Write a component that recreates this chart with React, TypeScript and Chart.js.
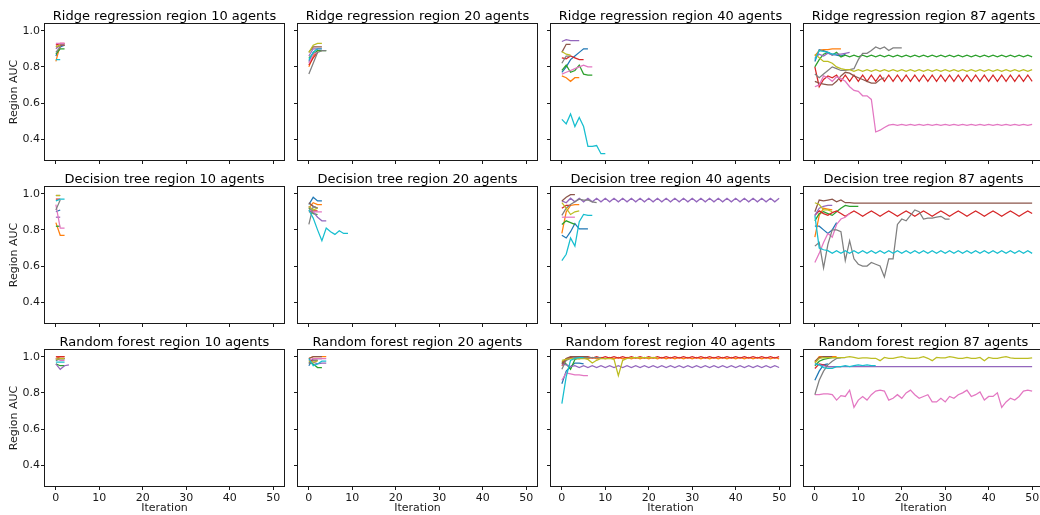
import React, { useEffect, useRef } from "react";
import { Chart, registerables } from "chart.js";

Chart.register(...registerables);

const modelNames = ["Ridge regression", "Decision tree", "Random forest"];
const agentCounts = [10, 20, 40, 87];
const xTickValues = [0, 10, 20, 30, 40, 50];
const yTickValues = [0.4, 0.6, 0.8, 1.0];
const xLimits = [-2.5, 52.5];
const yLimits = [0.285, 1.037];
const seriesColors = ["#1f77b4", "#ff7f0e", "#2ca02c", "#d62728", "#9467bd", "#8c564b", "#e377c2", "#7f7f7f", "#bcbd22", "#17becf"];

// ---- Ridge regression ----
const ridge10 = [
  [0.86, 0.91, 0.92],
  [0.83, 0.92, 0.92],
  [0.87, 0.90, 0.90],
  [0.92, 0.93, 0.93],
  [0.90, 0.92, 0.92],
  [0.91, 0.92, 0.92],
  [0.93, 0.93, 0.93],
  [0.88, 0.91],
  [0.91, 0.92],
  [0.84, 0.84],
];
const ridge20 = [
  [0.83, 0.88, 0.90, 0.90],
  [0.80, 0.86, 0.89, 0.89],
  [0.85, 0.87, 0.89, 0.89, 0.89],
  [0.81, 0.85, 0.88],
  [0.86, 0.90, 0.90],
  [0.88, 0.91, 0.91, 0.91],
  [0.82, 0.87, 0.88],
  [0.76, 0.82, 0.88, 0.89, 0.89],
  [0.88, 0.92, 0.93, 0.93],
  [0.84, 0.88, 0.90],
];
const ridge40 = [
  [0.77, 0.80, 0.84, 0.86, 0.88, 0.90, 0.90],
  [0.75, 0.74, 0.72, 0.74, 0.74],
  [0.78, 0.81, 0.77, 0.78, 0.81, 0.76, 0.755, 0.755],
  [0.85, 0.845, 0.86, 0.85, 0.84, 0.84],
  [0.94, 0.95, 0.945, 0.945, 0.945],
  [0.88, 0.925, 0.925],
  [0.76, 0.77, 0.78, 0.79, 0.80, 0.81, 0.80, 0.80],
  [0.82, 0.86, 0.86],
  [0.885, 0.87, 0.865],
  [0.51, 0.485, 0.54, 0.47, 0.52, 0.47, 0.36, 0.36, 0.365, 0.32, 0.32],
];
const ridge87 = [
  [0.83, 0.895, 0.89, 0.88, 0.87, 0.865, 0.86, 0.87],
  [0.86, 0.89, 0.895, 0.895, 0.90, 0.90, 0.90],
  [0.80, 0.84, 0.87, 0.88, 0.865, 0.88,
    0.855, 0.865, 0.855, 0.865, 0.855, 0.865, 0.855, 0.865, 0.855, 0.865,
    0.855, 0.865, 0.855, 0.865, 0.855, 0.865, 0.855, 0.865, 0.855, 0.865,
    0.855, 0.865, 0.855, 0.865, 0.855, 0.865, 0.855, 0.865, 0.855, 0.865,
    0.855, 0.865, 0.855, 0.865, 0.855, 0.865, 0.855, 0.865, 0.855, 0.865,
    0.855, 0.865, 0.855, 0.865, 0.855],
  [0.80, 0.69, 0.73, 0.75, 0.74,
    0.755, 0.72, 0.755, 0.72, 0.755, 0.72, 0.755, 0.72, 0.755, 0.72,
    0.755, 0.72, 0.755, 0.72, 0.755, 0.72, 0.755, 0.72, 0.755, 0.72,
    0.755, 0.72, 0.755, 0.72, 0.755, 0.72, 0.755, 0.72, 0.755, 0.72,
    0.755, 0.72, 0.755, 0.72, 0.755, 0.72, 0.755, 0.72, 0.755, 0.72,
    0.755, 0.72, 0.755, 0.72, 0.755, 0.72],
  [0.85, 0.87, 0.86, 0.875, 0.865, 0.87, 0.87, 0.875, 0.88],
  [0.72, 0.71, 0.705, 0.70, 0.70, 0.72, 0.75, 0.77, 0.765, 0.75, 0.74, 0.73, 0.72, 0.71, 0.71, 0.73, 0.74],
  [0.69, 0.70, 0.75, 0.74, 0.72, 0.745, 0.735, 0.72, 0.69, 0.67,
    0.665, 0.64, 0.64, 0.62, 0.44, 0.45, 0.465, 0.478,
    0.482, 0.476, 0.482, 0.476, 0.482, 0.476, 0.482, 0.476, 0.482, 0.476,
    0.482, 0.476, 0.482, 0.476, 0.482, 0.476, 0.482, 0.476, 0.482, 0.476,
    0.482, 0.476, 0.482, 0.476, 0.482, 0.476, 0.482, 0.476, 0.482, 0.476,
    0.482, 0.476, 0.482],
  [0.76, 0.74, 0.76, 0.78, 0.80, 0.79, 0.78, 0.78, 0.785, 0.79, 0.84, 0.875, 0.875, 0.89, 0.91, 0.90, 0.91, 0.89, 0.905, 0.905, 0.905],
  [0.87, 0.85, 0.83, 0.83, 0.82, 0.80, 0.79, 0.785,
    0.785, 0.775, 0.785, 0.775, 0.785, 0.775, 0.785, 0.775, 0.785, 0.775,
    0.785, 0.775, 0.785, 0.775, 0.785, 0.775, 0.785, 0.775, 0.785, 0.775,
    0.785, 0.775, 0.785, 0.775, 0.785, 0.775, 0.785, 0.775, 0.785, 0.775,
    0.785, 0.775, 0.785, 0.775, 0.785, 0.775, 0.785, 0.775, 0.785, 0.775,
    0.785, 0.775, 0.785],
  [0.84, 0.89, 0.885, 0.88, 0.87, 0.87],
];

// ---- Decision tree ----
const tree10 = [
  [0.90, 0.91],
  [0.84, 0.77, 0.77],
  [0.82, 0.82],
  [0.97, 0.97],
  [0.87, 0.87],
  [0.99, 0.99],
  [0.94, 0.81, 0.81],
  [0.91, 0.965],
  [0.99, 0.99],
  [0.96, 0.97, 0.97],
];
const tree20 = [
  [0.94, 0.98, 0.96, 0.96],
  [0.92, 0.95, 0.94, 0.94],
  [0.92, 0.89, 0.885],
  [0.90, 0.905, 0.905],
  [0.93, 0.90, 0.87, 0.85, 0.85],
  [0.95, 0.93, 0.92],
  [0.91, 0.90, 0.90, 0.90],
  [0.83, 0.93, 0.92],
  [0.93, 0.91, 0.92],
  [0.91, 0.865, 0.80, 0.74, 0.81, 0.79, 0.775, 0.795, 0.78, 0.78],
];
const tree40 = [
  [0.77, 0.755, 0.79, 0.835, 0.805, 0.805, 0.805],
  [0.78, 0.90, 0.935, 0.94, 0.94],
  [0.83, 0.85, 0.84, 0.83],
  [0.92, 0.935, 0.935],
  [0.96, 0.95,
    0.975, 0.955, 0.975, 0.955, 0.975, 0.955, 0.975, 0.955, 0.975, 0.955,
    0.975, 0.955, 0.975, 0.955, 0.975, 0.955, 0.975, 0.955, 0.975, 0.955,
    0.975, 0.955, 0.975, 0.955, 0.975, 0.955, 0.975, 0.955, 0.975, 0.955,
    0.975, 0.955, 0.975, 0.955, 0.975, 0.955, 0.975, 0.955, 0.975, 0.955,
    0.975, 0.955, 0.975, 0.955, 0.975, 0.955, 0.975, 0.955,
    0.975],
  [0.96, 0.98, 0.995, 0.995],
  [0.87, 0.87, 0.87, 0.87],
  [0.88, 0.92, 0.94, 0.955, 0.97, 0.965, 0.965, 0.955, 0.95],
  [0.95, 0.92, 0.885, 0.90, 0.905],
  [0.63, 0.665, 0.755, 0.71, 0.845, 0.885, 0.88, 0.88],
];
const tree87 = [
  [0.82, 0.82, 0.80, 0.78, 0.80, 0.84],
  [0.76, 0.88, 0.92, 0.915, 0.91],
  [0.85, 0.89, 0.90, 0.89, 0.88, 0.90, 0.92, 0.935, 0.93, 0.93, 0.93],
  [0.88, 0.905, 0.89, 0.88, 0.895,
    0.905, 0.89, 0.875, 0.89, 0.905, 0.89, 0.875, 0.89, 0.905, 0.89, 0.875, 0.89,
    0.905, 0.89, 0.875, 0.89, 0.905, 0.89, 0.875, 0.89, 0.905, 0.89, 0.875, 0.89,
    0.905, 0.89, 0.875, 0.89, 0.905, 0.89, 0.875, 0.89, 0.905, 0.89, 0.875, 0.89,
    0.905, 0.89, 0.875, 0.89, 0.905, 0.89, 0.875, 0.89,
    0.905, 0.89],
  [0.88, 0.92, 0.93, 0.935, 0.935],
  [0.90, 0.965, 0.96, 0.965, 0.97, 0.955, 0.965, 0.95, 0.95,
    0.948, 0.948, 0.948, 0.948, 0.948, 0.948, 0.948, 0.948, 0.948, 0.948,
    0.948, 0.948, 0.948, 0.948, 0.948, 0.948, 0.948, 0.948, 0.948, 0.948,
    0.948, 0.948, 0.948, 0.948, 0.948, 0.948, 0.948, 0.948, 0.948, 0.948,
    0.948, 0.948, 0.948, 0.948, 0.948, 0.948, 0.948, 0.948, 0.948, 0.948,
    0.948, 0.948],
  [0.62, 0.67, 0.73, 0.78, 0.76, 0.83, 0.86, 0.87, 0.89],
  [0.71, 0.73, 0.59, 0.72, 0.80, 0.80, 0.79, 0.63, 0.74, 0.64,
    0.61, 0.60, 0.60, 0.62, 0.61, 0.60, 0.54, 0.64, 0.64, 0.83,
    0.86, 0.85, 0.88, 0.91, 0.90, 0.86, 0.865, 0.865, 0.87, 0.875,
    0.86, 0.86],
  [0.95, 0.94, 0.91, 0.91, 0.90],
  [0.88, 0.70, 0.69, 0.685,
    0.67, 0.685, 0.67, 0.685, 0.67, 0.685, 0.67, 0.685, 0.67, 0.685,
    0.67, 0.685, 0.67, 0.685, 0.67, 0.685, 0.67, 0.685, 0.67, 0.685,
    0.67, 0.685, 0.67, 0.685, 0.67, 0.685, 0.67, 0.685, 0.67, 0.685,
    0.67, 0.685, 0.67, 0.685, 0.67, 0.685, 0.67, 0.685, 0.67, 0.685,
    0.67, 0.685, 0.67, 0.685, 0.67, 0.685,
    0.67],
];

// ---- Random forest ----
const forest10 = [
  [0.98, 0.99, 0.99],
  [0.99, 1.0, 1.0],
  [0.96, 0.95, 0.95],
  [1.0, 1.0, 1.0],
  [0.96, 0.93, 0.95, 0.955],
  [0.99, 0.99, 0.99],
  [0.99, 0.98, 0.98],
  [0.98, 0.99, 0.99],
  [0.985, 0.99, 0.99],
  [0.97, 0.97, 0.97],
];
const forest20 = [
  [0.95, 0.99, 0.99, 0.99],
  [0.99, 1.0, 1.0, 1.0, 1.0],
  [0.97, 0.96, 0.94, 0.94],
  [0.98, 0.98, 0.98],
  [0.97, 0.97, 0.96, 0.965, 0.965],
  [0.99, 1.0, 1.0, 1.0],
  [0.98, 0.99, 0.99, 0.99, 0.99],
  [0.96, 0.98, 0.98],
  [0.975, 0.97, 0.975],
  [0.99, 0.95, 0.96, 0.975, 0.975],
];
const forest40 = [
  [0.85, 0.92, 0.945, 0.965, 0.965, 0.96],
  [0.97, 0.99, 0.995, 0.99,
    0.988, 0.996, 0.988, 0.996, 0.988, 0.996, 0.988, 0.996, 0.988, 0.996,
    0.988, 0.996, 0.988, 0.996, 0.988, 0.996, 0.988, 0.996, 0.988, 0.996,
    0.988, 0.996, 0.988, 0.996, 0.988, 0.996, 0.988, 0.996, 0.988, 0.996,
    0.988, 0.996, 0.988, 0.996, 0.988, 0.996, 0.988, 0.996, 0.988, 0.996,
    0.988, 0.996, 0.988, 0.996, 0.988, 0.996,
    0.988],
  [0.97, 0.96, 0.93, 0.985, 0.995, 0.995, 0.995],
  [0.95, 0.985, 0.995, 0.99,
    1.0, 0.992, 1.0, 0.992, 1.0, 0.992, 1.0, 0.992, 1.0, 0.992,
    1.0, 0.992, 1.0, 0.992, 1.0, 0.992, 1.0, 0.992, 1.0, 0.992,
    1.0, 0.992, 1.0, 0.992, 1.0, 0.992, 1.0, 0.992, 1.0, 0.992,
    1.0, 0.992, 1.0, 0.992, 1.0, 0.992, 1.0, 0.992, 1.0, 0.992,
    1.0, 0.992, 1.0, 0.992, 1.0, 0.992,
    1.0],
  [0.96, 0.955, 0.945,
    0.95, 0.94, 0.95, 0.94, 0.95, 0.94, 0.95, 0.94, 0.95, 0.94,
    0.95, 0.94, 0.95, 0.94, 0.95, 0.94, 0.95, 0.94, 0.95, 0.94,
    0.95, 0.94, 0.95, 0.94, 0.95, 0.94, 0.95, 0.94, 0.95, 0.94,
    0.95, 0.94, 0.95, 0.94, 0.95, 0.94, 0.95, 0.94, 0.95, 0.94,
    0.95, 0.94, 0.95, 0.94, 0.95, 0.94, 0.95, 0.94],
  [0.96, 0.99, 1.0, 1.0, 1.0, 1.0, 1.0],
  [0.87, 0.91, 0.905, 0.90, 0.90, 0.895, 0.895],
  [0.93, 0.98, 0.99, 0.995, 0.995, 0.995, 0.995, 0.995, 0.995, 0.995],
  [0.98, 0.985, 0.99, 0.99, 0.99, 0.99, 0.985, 0.965, 0.98, 0.99,
    0.99, 0.99, 0.985, 0.895, 0.98, 0.99, 0.995, 0.995, 0.995, 0.995,
    0.995, 0.995, 0.995],
  [0.74, 0.89, 0.98, 0.99, 0.995, 0.995],
];
const forest87 = [
  [0.87, 0.92, 0.955, 0.96],
  [0.97, 1.0, 1.0, 1.0, 1.0, 1.0],
  [0.95, 0.975, 0.985, 0.99, 0.995, 0.995, 0.995],
  [0.935, 0.96, 0.955, 0.945, 0.945, 0.945, 0.945],
  [0.96, 0.955, 0.95,
    0.945, 0.945, 0.945, 0.945, 0.945, 0.945, 0.945, 0.945, 0.945, 0.945,
    0.945, 0.945, 0.945, 0.945, 0.945, 0.945, 0.945, 0.945, 0.945, 0.945,
    0.945, 0.945, 0.945, 0.945, 0.945, 0.945, 0.945, 0.945, 0.945, 0.945,
    0.945, 0.945, 0.945, 0.945, 0.945, 0.945, 0.945, 0.945, 0.945, 0.945,
    0.945, 0.945, 0.945, 0.945, 0.945, 0.945, 0.945, 0.945],
  [0.975, 0.995, 1.0, 1.0, 1.0],
  [0.79, 0.79, 0.795, 0.795, 0.79, 0.76, 0.785, 0.78, 0.815, 0.72,
    0.76, 0.78, 0.76, 0.79, 0.81, 0.815, 0.81, 0.76, 0.77, 0.79,
    0.77, 0.80, 0.815, 0.79, 0.77, 0.78, 0.79, 0.75, 0.75, 0.77,
    0.75, 0.78, 0.77, 0.79, 0.80, 0.815, 0.78, 0.79, 0.805, 0.76,
    0.78, 0.78, 0.80, 0.72, 0.75, 0.77, 0.76, 0.78, 0.81, 0.815,
    0.81],
  [0.79, 0.87, 0.92, 0.955, 0.975, 0.99, 0.995, 0.995],
  [0.965, 0.99, 0.995, 0.995, 0.995, 0.995, 0.995, 0.996, 1.0, 0.996,
    0.991, 0.994, 0.994, 0.991, 0.991, 0.978, 0.996, 0.991, 0.991, 0.996,
    1.0, 0.994, 0.991, 0.991, 0.994, 1.0, 0.991, 0.978, 0.996, 0.994,
    0.994, 1.0, 0.996, 0.991, 0.991, 0.996, 0.991, 0.991, 0.996, 0.978,
    0.996, 0.991, 0.991, 0.996, 1.0, 0.994, 0.991, 0.991, 0.991, 0.991,
    0.994],
  [0.96, 0.955, 0.94, 0.935, 0.935, 0.945, 0.945, 0.95, 0.945, 0.95, 0.955, 0.95, 0.955, 0.95, 0.95],
];

const panelSeries = [
  [ridge10, ridge20, ridge40, ridge87],
  [tree10, tree20, tree40, tree87],
  [forest10, forest20, forest40, forest87],
];

// ---- layout (pixels) ----
const AX_LEFT = [45, 298, 551, 804];
const AX_TOP = [24, 187, 350];
const AX_W = 239;
const AX_H = 136;
const PAD_L = 45;
const PAD_T = 3;
const PAD_R = 3;
const FIG_H = 515;
const FONT = "'DejaVu Sans', 'Liberation Sans', sans-serif";
const INK = "#1a1a1a";

Chart.defaults.font.family = FONT;

const framePlugin = {
  id: "frame",
  afterDatasetsDraw(chart: any) {
    const { ctx, chartArea: a } = chart;
    ctx.save();
    ctx.strokeStyle = INK;
    ctx.lineWidth = 1;
    ctx.strokeRect(a.left - 0.5, a.top - 0.5, a.right - a.left + 1, a.bottom - a.top + 1);
    ctx.restore();
  },
};

function Panel({ row, col }: { row: number; col: number }) {
  const ref = useRef<HTMLCanvasElement>(null);
  const isBottom = row === 2;
  const isLeft = col === 0;
  const bottomSpace = isBottom ? FIG_H - (AX_TOP[row] + AX_H) : 8;
  const width = PAD_L + AX_W + PAD_R;
  const height = PAD_T + AX_H + bottomSpace;

  useEffect(() => {
    const series = panelSeries[row][col];
    const chart = new Chart(ref.current as HTMLCanvasElement, {
      type: "line",
      data: {
        datasets: series.map((vals: number[], i: number) => ({
          label: `region ${i}`,
          data: vals.map((v, k) => ({ x: k, y: v })),
          borderColor: seriesColors[i],
          backgroundColor: seriesColors[i],
          borderWidth: 1.25,
          pointRadius: 0,
          pointHoverRadius: 0,
          fill: false,
          tension: 0,
          order: -i,
        })),
      },
      options: {
        responsive: false,
        maintainAspectRatio: false,
        animation: false,
        devicePixelRatio: 1,
        events: [],
        layout: { padding: { left: 0, top: PAD_T, right: PAD_R, bottom: 0 } },
        plugins: { legend: { display: false }, tooltip: { enabled: false }, title: { display: false } },
        scales: {
          x: {
            type: "linear",
            min: xLimits[0],
            max: xLimits[1],
            afterBuildTicks: (s: any) => {
              s.ticks = xTickValues.map((value) => ({ value }));
            },
            afterFit: (s: any) => {
              s.height = bottomSpace;
              s.paddingLeft = 0;
              s.paddingRight = 0;
            },
            border: { display: false },
            grid: { display: true, drawOnChartArea: false, drawTicks: true, tickLength: 4, color: INK, lineWidth: 1 },
            ticks: {
              display: isBottom,
              padding: 1.5,
              color: INK,
              autoSkip: false,
              maxRotation: 0,
              font: { family: FONT, size: 11 },
              callback: (v: any) => String(v),
            },
            title: {
              display: isBottom,
              text: "Iteration",
              color: INK,
              font: { family: FONT, size: 11 },
              padding: { top: 0, bottom: 0.5 },
            },
          },
          y: {
            type: "linear",
            min: yLimits[0],
            max: yLimits[1],
            afterBuildTicks: (s: any) => {
              s.ticks = yTickValues.map((value) => ({ value }));
            },
            afterFit: (s: any) => {
              s.width = PAD_L;
              s.paddingTop = 0;
              s.paddingBottom = 0;
            },
            border: { display: false },
            grid: { display: true, drawOnChartArea: false, drawTicks: true, tickLength: 4, color: INK, lineWidth: 1 },
            ticks: {
              display: isLeft,
              padding: 1,
              color: INK,
              font: { family: FONT, size: 11 },
              callback: (v: any) => Number(v).toFixed(1),
            },
            title: {
              display: isLeft,
              text: "Region AUC",
              color: INK,
              font: { family: FONT, size: 11 },
              padding: { top: 8, bottom: 0 },
            },
          },
        },
      },
      plugins: [framePlugin],
    } as any);
    return () => chart.destroy();
  }, [row, col]);

  return (
    <>
      <canvas
        ref={ref}
        width={width}
        height={height}
        style={{
          position: "absolute",
          left: AX_LEFT[col] - PAD_L,
          top: AX_TOP[row] - PAD_T,
          width,
          height,
        }}
      />
      <div
        style={{
          position: "absolute",
          left: AX_LEFT[col] - 20,
          top: AX_TOP[row] - 15,
          width: AX_W + 40,
          textAlign: "center",
          fontFamily: FONT,
          fontSize: 13,
          lineHeight: "13px",
          whiteSpace: "nowrap",
          color: "#000",
        }}
      >
        {`${modelNames[row]} region ${agentCounts[col]} agents`}
      </div>
    </>
  );
}

export default function App() {
  const cells: React.ReactNode[] = [];
  modelNames.forEach((_, r) => {
    agentCounts.forEach((__, c) => {
      cells.push(<Panel key={`${r}-${c}`} row={r} col={c} />);
    });
  });
  return (
    <div
      style={{
        position: "fixed",
        left: 0,
        top: 0,
        width: 1040,
        height: FIG_H,
        overflow: "hidden",
        background: "#fff",
      }}
    >
      {cells}
    </div>
  );
}
